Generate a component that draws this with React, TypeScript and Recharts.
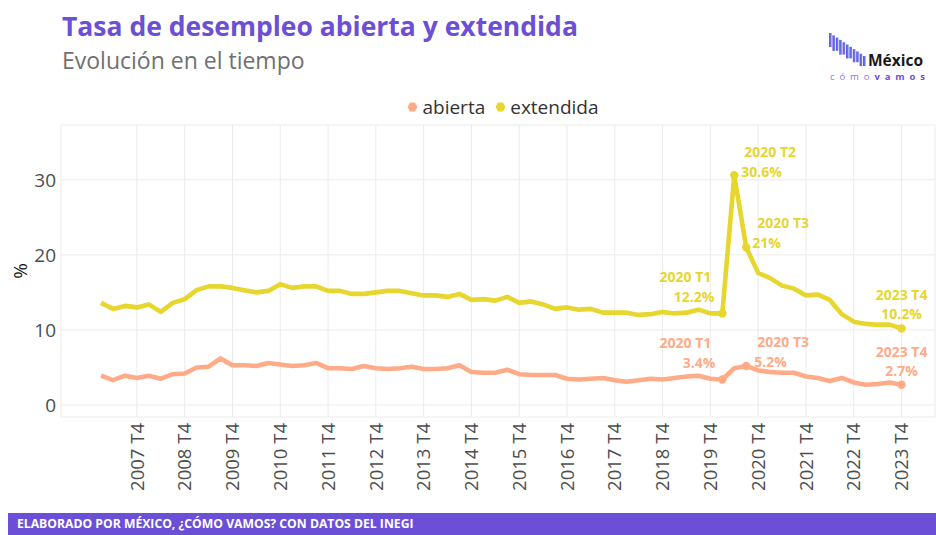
import { LineChart, Line, XAxis, YAxis, CartesianGrid } from 'recharts';

// Trimestres 2007 T1 - 2023 T4
const anios = [2007, 2008, 2009, 2010, 2011, 2012, 2013, 2014, 2015, 2016, 2017, 2018, 2019, 2020, 2021, 2022, 2023];
const trimestres = ['T1', 'T2', 'T3', 'T4'];
const periodos = anios.flatMap(a => trimestres.map(t => `${a} ${t}`));

// Tasa de desempleo abierta (%)
const abierta = [
  3.9, 3.3, 3.9, 3.6, 3.9, 3.5, 4.1, 4.2, 5.0, 5.1,
  6.2, 5.3, 5.3, 5.2, 5.6, 5.4, 5.2, 5.3, 5.6, 4.9,
  4.9, 4.8, 5.2, 4.9, 4.8, 4.9, 5.1, 4.8, 4.8, 4.9,
  5.3, 4.4, 4.3, 4.3, 4.7, 4.1, 4.0, 4.0, 4.0, 3.5,
  3.4, 3.5, 3.6, 3.3, 3.1, 3.3, 3.5, 3.4, 3.6, 3.8,
  3.9, 3.5, 3.4, 4.9, 5.2, 4.6, 4.4, 4.3, 4.3, 3.8,
  3.6, 3.2, 3.6, 3.0, 2.7, 2.8, 3.0, 2.7,
];

// Tasa de desempleo extendida (%)
const extendida = [
  13.6, 12.8, 13.2, 13.0, 13.4, 12.4, 13.6, 14.1, 15.3, 15.8,
  15.8, 15.6, 15.3, 15.0, 15.2, 16.1, 15.6, 15.8, 15.8, 15.2,
  15.2, 14.8, 14.8, 15.0, 15.2, 15.2, 14.9, 14.6, 14.6, 14.4,
  14.8, 14.0, 14.1, 13.9, 14.4, 13.6, 13.8, 13.4, 12.8, 13.0,
  12.7, 12.8, 12.3, 12.3, 12.3, 12.0, 12.1, 12.4, 12.2, 12.3,
  12.7, 12.2, 12.2, 30.6, 21.0, 17.6, 16.9, 15.9, 15.5, 14.6,
  14.7, 14.0, 12.1, 11.1, 10.8, 10.7, 10.7, 10.2,
];

const yTicks = [0, 10, 20, 30];
// etiquetas del eje x: solo los cuartos trimestres
const xTicks = periodos.map((p, i) => (p.endsWith('T4') ? i : -1)).filter(i => i >= 0);

// periodos destacados en cada serie
const destacadosAbierta = ['2020 T1', '2020 T3', '2023 T4'];
const destacadosExtendida = ['2020 T1', '2020 T2', '2020 T3', '2023 T4'];

const data = periodos.map((periodo, i) => ({
  i,
  periodo,
  abierta: abierta[i],
  extendida: extendida[i],
}));

const COLOR_ABIERTA = '#ffab88';
const COLOR_EXTENDIDA = '#e6d62e';
const MORADO = '#6b4fd6';
const FONT = '"Open Sans", sans-serif';

// desplazamientos de las etiquetas (linea 1, linea 2) respecto al punto
const posEtiquetas: Record<string, { anchor: string; dx1: number; dy1: number; dx2: number; dy2: number }> = {
  'extendida|2020 T1': { anchor: 'end', dx1: -11, dy1: -37, dx2: -8, dy2: -17 },
  'extendida|2020 T2': { anchor: 'start', dx1: 10, dy1: -24, dx2: 7, dy2: -4 },
  'extendida|2020 T3': { anchor: 'start', dx1: 11, dy1: -25, dx2: 6, dy2: -5 },
  'extendida|2023 T4': { anchor: 'middle', dx1: 0, dy1: -34, dx2: 0, dy2: -15 },
  'abierta|2020 T1': { anchor: 'end', dx1: -11, dy1: -37, dx2: -7, dy2: -17 },
  'abierta|2020 T3': { anchor: 'start', dx1: 11, dy1: -24, dx2: 8, dy2: -4 },
  'abierta|2023 T4': { anchor: 'middle', dx1: 0, dy1: -33, dx2: 0, dy2: -14 },
};

const makeDot = (serie: string, lista: string[], color: string) => (props: any) => {
  const { cx, cy, index } = props;
  if (!lista.includes(periodos[index])) return <g key={`${serie}-d-${index}`} />;
  return <circle key={`${serie}-d-${index}`} cx={cx} cy={cy} r={4.2} fill={color} stroke="none" />;
};

const makeLabel = (serie: string, lista: string[], color: string, valores: number[]) => (props: any) => {
  const { x, y, index } = props;
  const periodo = periodos[index];
  if (!lista.includes(periodo)) return <g key={`${serie}-l-${index}`} />;
  const pos = posEtiquetas[`${serie}|${periodo}`];
  const style = { fontFamily: FONT, fontWeight: 700, fontSize: 14 };
  return (
    <g key={`${serie}-l-${index}`}>
      <text x={x + pos.dx1} y={y + pos.dy1} textAnchor={pos.anchor} dominantBaseline="central" fill={color} style={style}>
        {periodo}
      </text>
      <text x={x + pos.dx2} y={y + pos.dy2} textAnchor={pos.anchor} dominantBaseline="central" fill={color} style={style}>
        {`${Number(valores[index].toFixed(1))}%`}
      </text>
    </g>
  );
};

const XTick = (props: any) => {
  const { x, y, payload } = props;
  return (
    <g transform={`translate(${x},${y})`}>
      <text transform="rotate(-90)" textAnchor="end" dy="0.36em" fill="#4d4d4d" style={{ fontFamily: FONT, fontSize: 18.5 }}>
        {periodos[payload.value]}
      </text>
    </g>
  );
};

const Hexagono = ({ color }: { color: string }) => (
  <svg width={11} height={10} style={{ marginRight: 4 }}>
    <polygon points="3,0.5 8,0.5 10.5,5 8,9.5 3,9.5 0.5,5" fill={color} />
  </svg>
);

const Logo = () => {
  const barras = [0, 1, 2, 3, 4, 5, 6, 7, 8, 9, 10];
  return (
    <svg width={110} height={55} style={{ position: 'absolute', left: 822, top: 30 }}>
      <defs>
        <linearGradient id="lg" x1="0" x2="1" y1="0" y2="0">
          <stop offset="0" stopColor="#7448e0" />
          <stop offset="1" stopColor="#5f8fe8" />
        </linearGradient>
      </defs>
      {barras.map(b => (
        <rect key={b} x={7 + b * 3.4} y={3 + b * 2.3} width={2.6} height={14 + (b % 2) * 2 - b * 0.4} fill="url(#lg)" />
      ))}
      <text x={46} y={35.5} fill="#1a1a1a" style={{ fontFamily: FONT, fontWeight: 700, fontSize: 15.5 }}>México</text>
      <text x={8} y={49.5} style={{ fontFamily: FONT, fontSize: 9.5, letterSpacing: 4.9 }}>
        <tspan fill="#8a78e0">cómo</tspan>
        <tspan fill={MORADO} fontWeight={700}>vamos</tspan>
      </text>
    </svg>
  );
};

const App = () => {
  return (
    <div style={{ position: 'absolute', left: 0, top: 0, width: 936, height: 535, background: '#fff', fontFamily: FONT, overflow: 'hidden' }}>
      <div style={{ position: 'absolute', left: 62, top: 12, height: 28, fontSize: 26.5, fontWeight: 700, color: MORADO, lineHeight: '28px', whiteSpace: 'nowrap' }}>
        Tasa de desempleo abierta y extendida
      </div>
      <div style={{ position: 'absolute', left: 62, top: 47, height: 26, fontSize: 23, color: '#707070', lineHeight: '26px', whiteSpace: 'nowrap' }}>
        Evolución en el tiempo
      </div>
      <Logo />

      <div style={{ position: 'absolute', left: 70, width: 866, top: 93, height: 28, display: 'flex', justifyContent: 'center', alignItems: 'center', fontSize: 19, color: '#333' }}>
        <Hexagono color={COLOR_ABIERTA} />
        <span style={{ marginRight: 10 }}>abierta</span>
        <Hexagono color={COLOR_EXTENDIDA} />
        <span>extendida</span>
      </div>

      <div style={{ position: 'absolute', left: 0, top: 0 }}>
        <LineChart width={936} height={510} data={data} margin={{ top: 125, right: 1, bottom: 0, left: 0 }}>
          <CartesianGrid stroke="#ebebeb" strokeWidth={1} />
          <XAxis
            dataKey="i"
            type="number"
            domain={[-3.35, 69.8]}
            ticks={xTicks}
            interval={0}
            tick={<XTick />}
            tickLine={false}
            axisLine={false}
            tickSize={0}
            tickMargin={6}
            height={93}
            allowDataOverflow
          />
          <YAxis
            type="number"
            domain={[-1.6, 37.3]}
            ticks={yTicks}
            interval={0}
            tickLine={false}
            axisLine={false}
            tickSize={0}
            tickMargin={5}
            width={61}
            allowDataOverflow
            tick={{ fill: '#4d4d4d', fontSize: 19, fontFamily: FONT }}
            label={{
              content: ({ viewBox }: any) => (
                <text
                  x={viewBox.x + 20}
                  y={viewBox.y + viewBox.height / 2}
                  transform={`rotate(-90, ${viewBox.x + 20}, ${viewBox.y + viewBox.height / 2})`}
                  textAnchor="middle"
                  dominantBaseline="central"
                  fill="#111"
                  style={{ fontFamily: FONT, fontSize: 19 }}
                >
                  %
                </text>
              ),
            }}
          />
          <Line
            type="linear"
            dataKey="extendida"
            stroke={COLOR_EXTENDIDA}
            strokeWidth={4.6}
            strokeLinejoin="round"
            dot={makeDot('extendida', destacadosExtendida, COLOR_EXTENDIDA)}
            activeDot={false}
            label={makeLabel('extendida', destacadosExtendida, COLOR_EXTENDIDA, extendida)}
            isAnimationActive={false}
          />
          <Line
            type="linear"
            dataKey="abierta"
            stroke={COLOR_ABIERTA}
            strokeWidth={4.6}
            strokeLinejoin="round"
            dot={makeDot('abierta', destacadosAbierta, COLOR_ABIERTA)}
            activeDot={false}
            label={makeLabel('abierta', destacadosAbierta, COLOR_ABIERTA, abierta)}
            isAnimationActive={false}
          />
        </LineChart>
      </div>

      <div style={{ position: 'absolute', left: 8, right: 0, top: 513, height: 22, background: MORADO, color: '#fff', fontSize: 12.2, fontWeight: 700, lineHeight: '22px', paddingLeft: 9, boxSizing: 'border-box', whiteSpace: 'nowrap' }}>
        ELABORADO POR MÉXICO, ¿CÓMO VAMOS? CON DATOS DEL INEGI
      </div>
    </div>
  );
};

export default App;
